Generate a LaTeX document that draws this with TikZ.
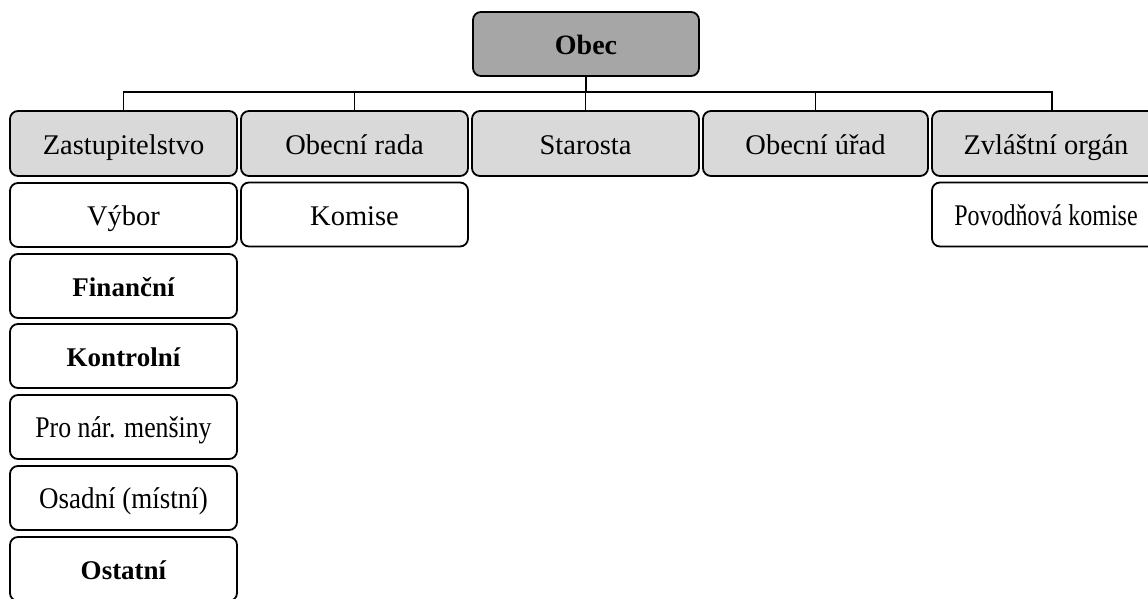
\documentclass[tikz,border=0pt]{standalone}
\usepackage{fontspec}
\usepackage{graphicx}
\setmainfont{Liberation Serif}
\definecolor{topgray}{HTML}{A6A6A6}
\definecolor{boxgray}{HTML}{D9D9D9}
\newcommand\cond[2]{\scalebox{#1}[1]{#2}}
\tikzset{
  box/.style={draw=black, line width=1.8pt, rounded corners=8pt, inner sep=0pt,
    minimum width=227pt, minimum height=64pt, anchor=center,
    text height=21pt, text depth=0pt,
    font=\fontsize{28.5}{30}\selectfont},
  topbox/.style={box, fill=topgray, minimum width=226pt, font=\bfseries\fontsize{28}{30}\selectfont},
  headbox/.style={box, fill=boxgray, minimum height=65pt},
  subbox/.style={box, fill=white},
  boldsub/.style={subbox, font=\bfseries\fontsize{27}{30}\selectfont},
  condsub/.style={subbox, font=\fontsize{30}{32}\selectfont},
  conn/.style={draw=black, line width=1.8pt}
}
\begin{document}
\begin{tikzpicture}[x=1pt,y=1pt]
\useasboundingbox (0,0) rectangle (1148,-599);
% top
\node[topbox] (obec) at (586,-44) {Obec};
% level 1
\node[headbox] (zast) at (123.5,-143.5) {Zastupitelstvo};
\node[headbox] (rada) at (354.5,-143.5) {Obecní rada};
\node[headbox] (star) at (585.5,-143.5) {Starosta};
\node[headbox, minimum width=225pt] (urad) at (815.5,-143.5) {Obecní úřad};
\node[headbox, minimum width=228pt] (zvl) at (1046,-143.5) {Zvláštní orgán};
% level 2
\node[subbox] (vybor) at (123.5,-215) {Výbor};
\node[subbox] (komise) at (354.5,-214.5) {Komise};
\node[condsub, minimum width=228pt] (povod) at (1046,-214.5) {\cond{0.8}{Povodňová komise}};
\node[boldsub] (fin) at (123.5,-286) {Finanční};
\node[boldsub] (kon) at (123.5,-356) {Kontrolní};
\node[condsub] (mens) at (123.5,-427) {\cond{0.86}{Pro nár. menšiny}};
\node[condsub] (osad) at (123.5,-498) {\cond{0.9}{Osadní (místní)}};
\node[boldsub] (ost) at (123.5,-569) {Ostatní};
% connectors
\coordinate (bus) at (586,-92);
\draw[conn] (obec.south) -- (bus);
\draw[conn] (zast.north) |- (bus) -| ([xshift=6pt]zvl.north);
\draw[conn] (rada.north) -- (rada.north |- bus);
\draw[conn] (star.north) -- (star.north |- bus);
\draw[conn] (urad.north) -- (urad.north |- bus);
\end{tikzpicture}
\end{document}
